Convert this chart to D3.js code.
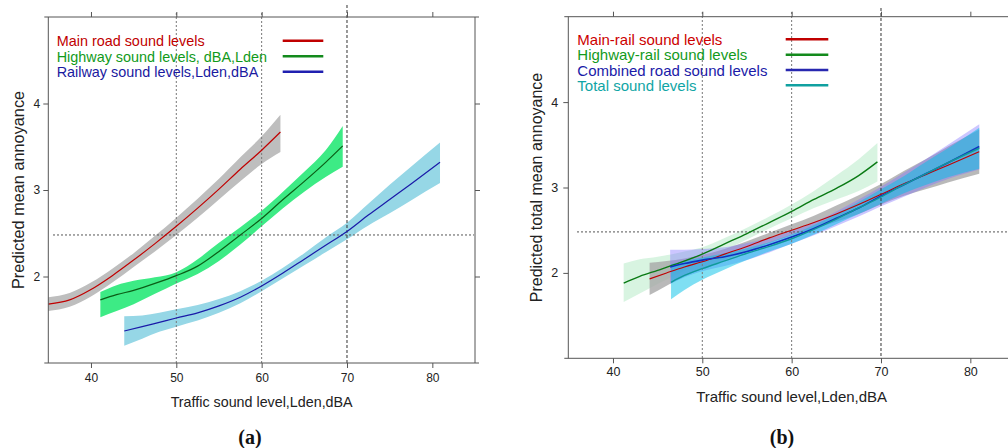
<!DOCTYPE html>
<html>
<head>
<meta charset="utf-8">
<script src="https://cdn.jsdelivr.net/npm/d3@7"></script>
<style>
html,body{margin:0;padding:0;background:#fff;}
svg{display:block;font-family:"Liberation Sans",Arial,sans-serif;}
</style>
</head>
<body>
<svg id="chart" width="1008" height="448"></svg>
<script>
// ---------- Data ----------
const xTicks = [40, 50, 60, 70, 80];
const yTicks = [2, 3, 4];
const refX = [50, 60, 70];
const refY = 2.48;

// Panel (a)
const mainRoadX     = [35, 37.5, 40, 42.5, 45, 47.5, 50, 52.5, 55, 57.5, 60, 62.2];
const mainRoadFit   = [1.68, 1.73, 1.85, 2.01, 2.19, 2.38, 2.58, 2.79, 3.01, 3.24, 3.46, 3.67];
const mainRoadUpper = [1.76, 1.81, 1.93, 2.09, 2.27, 2.47, 2.68, 2.90, 3.13, 3.38, 3.62, 3.87];
const mainRoadLower = [1.60, 1.65, 1.77, 1.93, 2.11, 2.29, 2.48, 2.68, 2.89, 3.10, 3.30, 3.44];

const highwayX     = [41.1, 43, 45, 47.5, 50, 52.5, 55, 57.5, 60, 62.5, 65, 67.5, 69.5];
const highwayFit   = [1.73, 1.79, 1.84, 1.92, 2.01, 2.12, 2.29, 2.48, 2.67, 2.89, 3.10, 3.32, 3.51];
const highwayUpper = [1.82, 1.90, 1.95, 1.99, 2.05, 2.20, 2.39, 2.57, 2.76, 2.98, 3.21, 3.46, 3.74];
const highwayLower = [1.53, 1.60, 1.68, 1.80, 1.92, 2.03, 2.18, 2.37, 2.58, 2.79, 2.98, 3.15, 3.27];

const railwayX     = [43.9, 46, 48, 50, 52.5, 55, 57.5, 60, 62.5, 65, 67.5, 70, 72.5, 75, 77.5, 80.9];
const railwayFit   = [1.37, 1.42, 1.47, 1.52, 1.58, 1.66, 1.76, 1.89, 2.04, 2.20, 2.36, 2.52, 2.71, 2.89, 3.07, 3.32];
const railwayUpper = [1.54, 1.55, 1.58, 1.62, 1.67, 1.74, 1.83, 1.95, 2.10, 2.27, 2.45, 2.62, 2.84, 3.06, 3.27, 3.55];
const railwayLower = [1.20, 1.28, 1.36, 1.42, 1.49, 1.58, 1.69, 1.83, 1.98, 2.13, 2.28, 2.43, 2.59, 2.73, 2.88, 3.08];

// Panel (b)
const hwRailX     = [41.2, 43, 45, 47.5, 50, 52.5, 55, 57.5, 60, 62.5, 65, 67.5, 69.6];
const hwRailFit   = [1.88, 1.96, 2.03, 2.12, 2.22, 2.34, 2.46, 2.59, 2.72, 2.86, 2.99, 3.14, 3.30];
const hwRailUpper = [2.11, 2.16, 2.19, 2.24, 2.30, 2.41, 2.53, 2.66, 2.80, 2.96, 3.14, 3.33, 3.52];
const hwRailLower = [1.66, 1.76, 1.87, 2.00, 2.13, 2.26, 2.39, 2.52, 2.64, 2.76, 2.86, 2.96, 3.07];

const mainRailX     = [44.1, 46, 48, 50, 52.5, 55, 57.5, 60, 62.5, 65, 67.5, 70, 72.5, 75, 77.5, 81];
const mainRailFit   = [1.93, 2.00, 2.07, 2.13, 2.22, 2.31, 2.41, 2.50, 2.59, 2.69, 2.80, 2.92, 3.04, 3.15, 3.26, 3.42];
const mainRailUpper = [2.12, 2.14, 2.17, 2.21, 2.28, 2.37, 2.47, 2.57, 2.67, 2.79, 2.91, 3.04, 3.19, 3.33, 3.48, 3.68];
const mainRailLower = [1.74, 1.85, 1.96, 2.05, 2.15, 2.25, 2.35, 2.44, 2.52, 2.60, 2.69, 2.80, 2.90, 2.98, 3.06, 3.16];

const combRoadX     = [46.4, 48, 50, 52.5, 55, 57.5, 60, 62.5, 65, 67.5, 70, 72.5, 75, 77.5, 81];
const combRoadFit   = [2.07, 2.11, 2.15, 2.19, 2.25, 2.33, 2.42, 2.52, 2.64, 2.76, 2.90, 3.03, 3.16, 3.29, 3.48];
const combRoadUpper = [2.27, 2.27, 2.28, 2.30, 2.35, 2.41, 2.49, 2.59, 2.72, 2.86, 3.01, 3.17, 3.33, 3.50, 3.74];
const combRoadLower = [1.87, 1.95, 2.02, 2.08, 2.15, 2.24, 2.34, 2.44, 2.55, 2.66, 2.78, 2.89, 3.00, 3.10, 3.21];

const totalX     = [46.5, 48, 50, 52.5, 55, 57.5, 60, 62.5, 65, 67.5, 70, 72.5, 75, 77.5, 81];
const totalFit   = [1.89, 1.97, 2.05, 2.14, 2.23, 2.31, 2.40, 2.51, 2.63, 2.76, 2.89, 3.03, 3.16, 3.29, 3.46];
const totalUpper = [2.10, 2.14, 2.18, 2.23, 2.29, 2.36, 2.45, 2.56, 2.69, 2.83, 2.98, 3.13, 3.30, 3.46, 3.70];
const totalLower = [1.69, 1.80, 1.92, 2.04, 2.15, 2.25, 2.34, 2.45, 2.57, 2.69, 2.81, 2.93, 3.03, 3.12, 3.22];

const legendA = ["Main road sound levels", "Highway sound levels, dBA,Lden", "Railway sound levels,Lden,dBA"];
const legendB = ["Main-rail sound levels", "Highway-rail sound levels", "Combined road sound levels", "Total sound levels"];
const xTitle = "Traffic sound level,Lden,dBA";
const yTitleA = "Predicted mean annoyance";
const yTitleB = "Predicted total mean annoyance";

// ---------- Drawing ----------
const svg = d3.select("#chart");

function series(xs, fit, lo, hi) {
  return xs.map((x, i) => ({x, fit: fit[i], lo: lo[i], hi: hi[i]}));
}

function panel(cfg) {
  const x = d3.scaleLinear().domain([35, 85]).range([cfg.left, cfg.right]);
  const y = d3.scaleLinear().domain([1, 5]).range([cfg.bottom, cfg.top]);
  const g = svg.append("g");

  const area = d3.area().curve(d3.curveMonotoneX)
    .x(d => x(d.x)).y0(d => y(d.lo)).y1(d => y(d.hi));
  const line = d3.line().curve(d3.curveMonotoneX)
    .x(d => x(d.x)).y(d => y(d.fit));

  cfg.series.forEach(s => {
    g.append("path").datum(s.data).attr("d", area)
      .attr("fill", s.band).attr("fill-opacity", s.bandOpacity).attr("stroke", "none");
  });

  refX.forEach((v, i) => {
    g.append("line")
      .attr("x1", x(v)).attr("x2", x(v))
      .attr("y1", cfg.refTop[i]).attr("y2", cfg.bottom)
      .attr("stroke", v === 70 ? "#333" : "#777")
      .attr("stroke-width", 1)
      .attr("stroke-dasharray", v === 70 ? "3,2" : "2,2");
  });
  g.append("line")
    .attr("x1", cfg.hLeft).attr("x2", cfg.hRight)
    .attr("y1", y(refY)).attr("y2", y(refY))
    .attr("stroke", "#555").attr("stroke-width", 1).attr("stroke-dasharray", "2,2");

  cfg.series.forEach(s => {
    g.append("path").datum(s.data).attr("d", line)
      .attr("fill", "none").attr("stroke", s.line).attr("stroke-width", s.lw);
  });

  const frame = "#555";
  g.append("line").attr("x1", cfg.left - 4).attr("x2", cfg.right + 4)
    .attr("y1", cfg.top).attr("y2", cfg.top).attr("stroke", frame);
  g.append("line").attr("x1", cfg.left - 4).attr("x2", cfg.right + 4)
    .attr("y1", cfg.bottom).attr("y2", cfg.bottom).attr("stroke", frame);
  g.append("line").attr("x1", cfg.left).attr("x2", cfg.left)
    .attr("y1", cfg.top).attr("y2", cfg.bottom).attr("stroke", frame);
  g.append("line").attr("x1", cfg.right).attr("x2", cfg.right)
    .attr("y1", cfg.top).attr("y2", cfg.bottom).attr("stroke", frame);

  const styleAxis = (sel) => {
    sel.select(".domain").remove();
    sel.selectAll(".tick line").attr("stroke", frame);
    sel.selectAll("text").attr("fill", "#222").style("font-size", cfg.tickFont + "px")
      .style("font-family", '"Liberation Sans", Arial, sans-serif');
  };
  const fmt = d3.format("d");
  g.append("g").attr("transform", `translate(0,${cfg.bottom})`)
    .call(d3.axisBottom(x).tickValues(xTicks).tickSize(5).tickPadding(cfg.xPad).tickFormat(fmt)).call(styleAxis);
  g.append("g").attr("transform", `translate(0,${cfg.top})`)
    .call(d3.axisTop(x).tickValues(xTicks).tickSize(5).tickFormat("")).call(styleAxis);
  g.append("g").attr("transform", `translate(${cfg.left},0)`)
    .call(d3.axisLeft(y).tickValues(yTicks).tickSize(5).tickPadding(cfg.yPad).tickFormat(fmt)).call(styleAxis);
  g.append("g").attr("transform", `translate(${cfg.right},0)`)
    .call(d3.axisRight(y).tickValues(yTicks).tickSize(5).tickFormat("")).call(styleAxis);

  g.append("text").attr("x", (cfg.left + cfg.right) / 2).attr("y", cfg.xTitleY)
    .attr("text-anchor", "middle").attr("fill", "#222")
    .style("font-size", cfg.xTitleFont + "px").text(xTitle);
  g.append("text")
    .attr("transform", `translate(${cfg.yTitleX},${(cfg.top + cfg.bottom) / 2}) rotate(-90)`)
    .attr("text-anchor", "middle").attr("dy", "0.35em").attr("fill", "#222")
    .style("font-size", cfg.yTitleFont + "px").text(cfg.yTitle);

  cfg.legend.forEach((t, i) => {
    const ly = cfg.legY0 + i * cfg.legStep;
    g.append("text").attr("x", cfg.legX).attr("y", ly + cfg.legFont * 0.37)
      .attr("fill", cfg.series[cfg.legOrder[i]].text)
      .style("font-size", cfg.legFont + "px").text(t);
    g.append("line").attr("x1", cfg.legL1).attr("x2", cfg.legL2)
      .attr("y1", ly).attr("y2", ly)
      .attr("stroke", cfg.series[cfg.legOrder[i]].legLine).attr("stroke-width", 2.5);
  });

  g.append("text").attr("x", cfg.letterX).attr("y", 444)
    .attr("text-anchor", "middle").attr("fill", "#111")
    .style("font-family", '"Liberation Serif", "DejaVu Serif", serif')
    .style("font-weight", "bold").style("font-size", "20px")
    .text(cfg.letter);
}

panel({
  left: 48.3, right: 475, top: 17, bottom: 363,
  refTop: [13, 13, 5], hLeft: 53, hRight: 474,
  tickFont: 12, xPad: 5, yPad: 3,
  xTitleY: 407, xTitleFont: 14.3, yTitleX: 18, yTitleFont: 16.3, yTitle: yTitleA,
  legend: legendA, legOrder: [0, 1, 2], legX: 56.7, legY0: 40.7, legStep: 15.5, legFont: 14.4,
  legL1: 282.7, legL2: 323.3,
  letter: "(a)", letterX: 250,
  series: [
    {data: series(mainRoadX, mainRoadFit, mainRoadLower, mainRoadUpper), band: "#bebebe", bandOpacity: 1,
     line: "#c00000", lw: 1.2, text: "#c00000", legLine: "#c00000"},
    {data: series(highwayX, highwayFit, highwayLower, highwayUpper), band: "#3deb85", bandOpacity: 1,
     line: "#0b5d16", lw: 1.2, text: "#119a1a", legLine: "#138a1c"},
    {data: series(railwayX, railwayFit, railwayLower, railwayUpper), band: "#96d7e6", bandOpacity: 1,
     line: "#1a1aa8", lw: 1.2, text: "#1a1aa0", legLine: "#2020b0"}
  ]
});

panel({
  left: 568.3, right: 1015, top: 16.7, bottom: 358.3,
  refTop: [12, 12, 8], hLeft: 577, hRight: 1010,
  tickFont: 12.5, xPad: 4, yPad: 5,
  xTitleY: 402, xTitleFont: 15, yTitleX: 536.7, yTitleFont: 16, yTitle: yTitleB,
  legend: legendB, legOrder: [1, 0, 2, 3], legX: 577.3, legY0: 39.3, legStep: 15.33, legFont: 15,
  legL1: 785.7, legL2: 828.3,
  letter: "(b)", letterX: 782,
  series: [
    {data: series(hwRailX, hwRailFit, hwRailLower, hwRailUpper), band: "#8fe0a8", bandOpacity: 0.35,
     line: "#0a7a14", lw: 1.4, text: "#139a1c", legLine: "#138a1c"},
    {data: series(mainRailX, mainRailFit, mainRailLower, mainRailUpper), band: "#a8a8a8", bandOpacity: 0.8,
     line: "#c00000", lw: 1.1, text: "#cc0000", legLine: "#c00000"},
    {data: series(combRoadX, combRoadFit, combRoadLower, combRoadUpper), band: "#8070ff", bandOpacity: 0.4,
     line: "#1030c0", lw: 1.6, text: "#1a1aa8", legLine: "#2828b0"},
    {data: series(totalX, totalFit, totalLower, totalUpper), band: "#00c0e8", bandOpacity: 0.5,
     line: "#109a9a", lw: 1.4, text: "#10a5a5", legLine: "#10a0a0"}
  ]
});
</script>
</body>
</html>
